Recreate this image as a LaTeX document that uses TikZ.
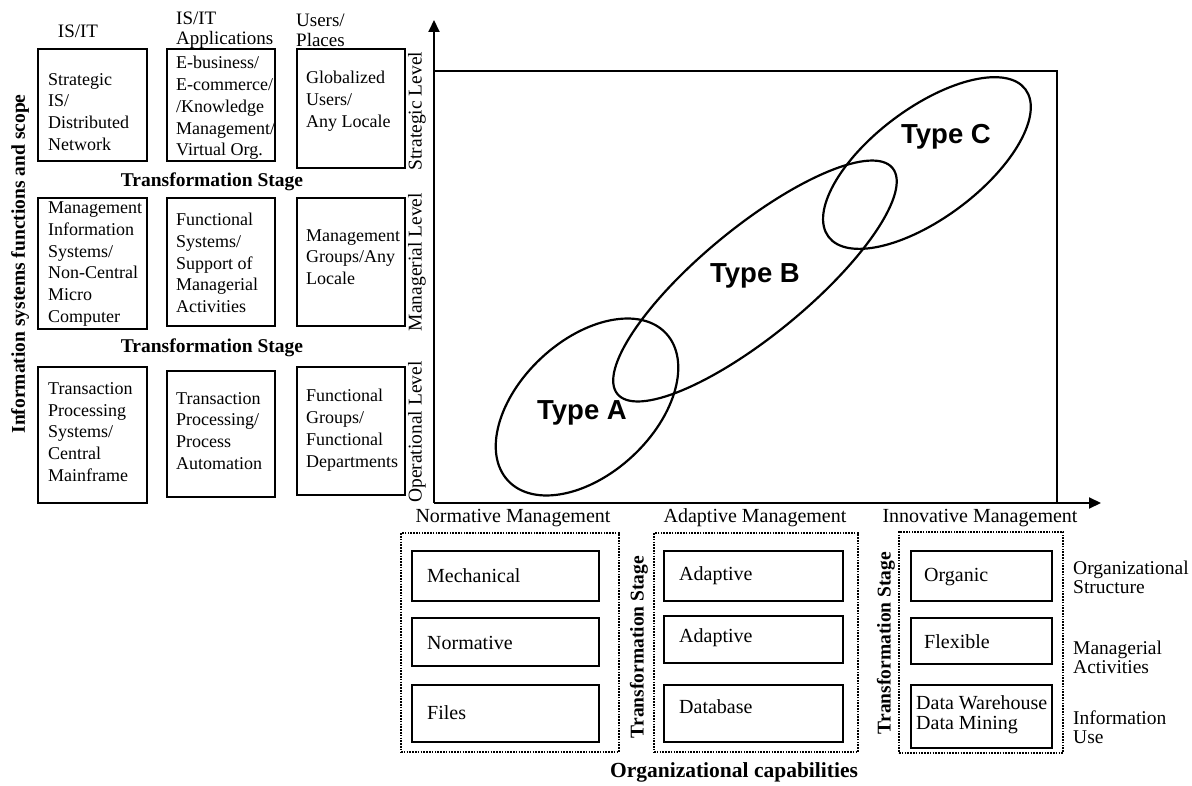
\documentclass[tikz,border=0pt]{standalone}
\usepackage{fontspec}
\setmainfont{Liberation Serif}
\newfontfamily\hv{Liberation Sans}
\usetikzlibrary{arrows.meta}
\begin{document}
\begin{tikzpicture}[x=1bp,y=-1bp,
  bx/.style={draw, line width=2.1bp, inner sep=0pt},
  gbox/.style={draw, line width=2bp, dash pattern=on 1.6bp off 1.2bp, inner sep=0pt},
  txt/.style={inner sep=0pt, align=left, font=\fontsize{18bp}{21.8bp}\selectfont},
  btxt/.style={inner sep=0pt, align=left, font=\fontsize{20bp}{20bp}\selectfont},
  rtxt/.style={inner sep=0pt, align=left, font=\fontsize{19.5bp}{19bp}\selectfont},
  hdr/.style={inner sep=0pt, align=left, font=\fontsize{19bp}{20bp}\selectfont},
  lvl/.style={inner sep=0pt, rotate=90, font=\fontsize{19.5bp}{20bp}\selectfont},
  ts/.style={inner sep=0pt, font=\fontsize{19.5bp}{20bp}\selectfont\bfseries},
  typ/.style={inner sep=0pt, font=\fontsize{27.5bp}{28bp}\selectfont\hv\bfseries},
  axis/.style={line width=2bp, -{Triangle[length=12bp,width=11bp]}},
  frm/.style={line width=2bp},
  ell/.style={line width=2.2bp}]
\useasboundingbox (0,0) rectangle (1192,786);

% ---- left grid headers
\node[hdr] (h1) at (78,31) {IS/IT};
\node[hdr, anchor=west] (h2) at (176,30) {IS/IT\\Applications};
\node[hdr, anchor=west] (h3) at (296,30) {Users/\\Places};

% ---- row 1
\node[bx, minimum width=109bp, minimum height=112bp] (b11) at (92.5,105) {};
\node[bx, minimum width=108bp, minimum height=112bp] (b12) at (221,105) {};
\node[bx, minimum width=108bp, minimum height=119bp] (b13) at (351,108.5) {};
\node[txt, anchor=west] (t11) at (48,112) {Strategic\\IS/\\Distributed\\Network};
\node[txt, anchor=west] (t12) at (176,108) {E-business/\\E-commerce/\\/Knowledge\\Management/\\Virtual Org.};
\node[txt, anchor=west] (t13) at (306,101) {Globalized\\Users/\\Any Locale};
\node[ts] (ts1) at (212,182) {Transformation Stage};

% ---- row 2
\node[bx, minimum width=109bp, minimum height=131bp] (b21) at (92.5,263.5) {};
\node[bx, minimum width=108bp, minimum height=128bp] (b22) at (221,262) {};
\node[bx, minimum width=108bp, minimum height=128bp] (b23) at (351,262) {};
\node[txt, anchor=west] (t21) at (48,264) {Management\\Information\\Systems/\\Non-Central\\Micro\\Computer};
\node[txt, anchor=west] (t22) at (176,263) {Functional\\Systems/\\Support of\\Managerial\\Activities};
\node[txt, anchor=west] (t23) at (306,257) {Management\\Groups/Any\\Locale};
\node[ts] (ts2) at (212,348) {Transformation Stage};

% ---- row 3
\node[bx, minimum width=109bp, minimum height=136bp] (b31) at (92.5,435) {};
\node[bx, minimum width=108bp, minimum height=126bp] (b32) at (221,434) {};
\node[bx, minimum width=108bp, minimum height=128bp] (b33) at (351,431) {};
\node[txt, anchor=west] (t31) at (48,432) {Transaction\\Processing\\Systems/\\Central\\Mainframe};
\node[txt, anchor=west] (t32) at (176,431) {Transaction\\Processing/\\Process\\Automation};
\node[txt, anchor=west] (t33) at (306,430) {Functional\\Groups/\\Functional\\Departments};

% ---- left vertical title
\node[ts, rotate=90] (ytitle) at (20,264) {Information systems functions and scope};

% ---- level labels
\node[lvl] (l1) at (417,111) {Strategic Level};
\node[lvl] (l2) at (417,262) {Managerial Level};
\node[lvl] (l3) at (417,432) {Operational Level};

% ---- axes and frame
\coordinate (O) at (434,503);
\coordinate (Ytip) at (434,20);
\coordinate (Xtip) at (1101,503);
\coordinate (TL) at (434,71);
\coordinate (TR) at (1057,71);
\coordinate (BR) at (1057,503);
\draw[frm] (TL) -- (TR) -- (BR);
\draw[axis] (O) -- (Ytip);
\draw[axis] (O) -- (Xtip);

% ---- ellipses
\coordinate (cA) at (587,407);
\coordinate (cB) at (755,281);
\coordinate (cC) at (927,163);
\draw[ell, rotate around={43:(cA)}] (cA) ellipse [x radius=108bp, y radius=67bp];
\draw[ell, rotate around={39.4:(cB)}] (cB) ellipse [x radius=178bp, y radius=54bp];
\draw[ell, rotate around={36.8:(cC)}] (cC) ellipse [x radius=123bp, y radius=55bp];
\node[typ] (tA) at (582,413) {Type A};
\node[typ] (tB) at (755,276) {Type B};
\node[typ] (tC) at (946,137) {Type C};

% ---- bottom headers
\node[btxt] (m1) at (513,518) {Normative Management};
\node[btxt] (m2) at (755,518) {Adaptive Management};
\node[btxt] (m3) at (980,518) {Innovative Management};

% ---- group 1
\node[gbox, minimum width=218bp, minimum height=219bp] (g1) at (510,642.5) {};
\node[bx, minimum width=187bp, minimum height=50bp] (g1a) at (505.5,576) {};
\node[bx, minimum width=187bp, minimum height=48bp] (g1b) at (505.5,642) {};
\node[bx, minimum width=187bp, minimum height=57bp] (g1c) at (505.5,713.5) {};
\node[btxt, anchor=west] (g1at) at (427,576) {Mechanical};
\node[btxt, anchor=west] (g1bt) at (427,643) {Normative};
\node[btxt, anchor=west] (g1ct) at (427,713) {Files};

% ---- group 2
\node[gbox, minimum width=204bp, minimum height=219bp] (g2) at (756,642.5) {};
\node[bx, minimum width=179bp, minimum height=50bp] (g2a) at (753.5,576) {};
\node[bx, minimum width=179bp, minimum height=47bp] (g2b) at (753.5,639.5) {};
\node[bx, minimum width=179bp, minimum height=57bp] (g2c) at (753.5,713.5) {};
\node[btxt, anchor=west] (g2at) at (679,576) {Adaptive};
\node[btxt, anchor=west] (g2bt) at (679,638) {Adaptive};
\node[btxt, anchor=west] (g2ct) at (679,707) {Database};

% ---- group 3
\node[gbox, minimum width=164bp, minimum height=221bp] (g3) at (981,642.5) {};
\node[bx, minimum width=141bp, minimum height=50bp] (g3a) at (981.5,576) {};
\node[bx, minimum width=141bp, minimum height=46bp] (g3b) at (981.5,641) {};
\node[bx, minimum width=141bp, minimum height=63bp] (g3c) at (981.5,716.5) {};
\node[btxt, anchor=west] (g3at) at (924,577) {Organic};
\node[btxt, anchor=west] (g3bt) at (924,642) {Flexible};
\node[btxt, anchor=west] (g3ct) at (916,715) {Data Warehouse\\Data Mining};

% ---- transformation stage (vertical)
\node[ts, rotate=90] (ts3) at (639,647) {Transformation Stage};
\node[ts, rotate=90] (ts4) at (886,643) {Transformation Stage};

% ---- right labels
\node[rtxt, anchor=west] (r1) at (1073,577.5) {Organizational\\Structure};
\node[rtxt, anchor=west] (r2) at (1073,657) {Managerial\\Activities};
\node[rtxt, anchor=west] (r3) at (1073,727.5) {Information\\Use};

% ---- bottom title
\node[inner sep=0pt, font=\fontsize{21.5bp}{22bp}\selectfont\bfseries] (xtitle) at (734,772) {Organizational capabilities};
\end{tikzpicture}
\end{document}
